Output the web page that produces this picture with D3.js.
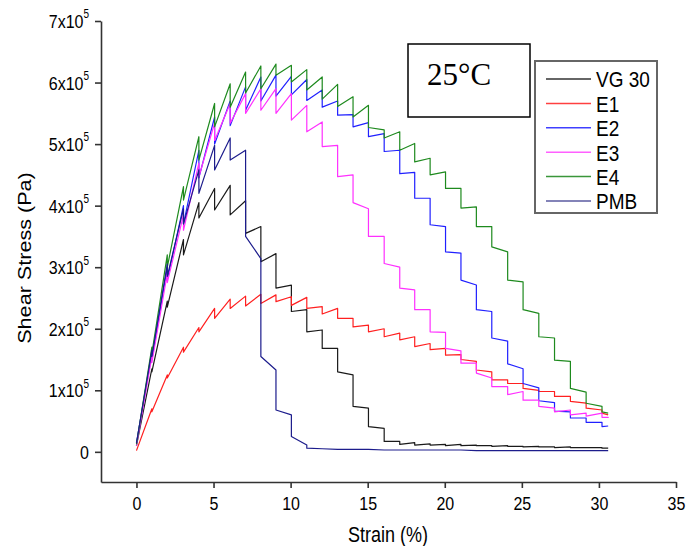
<!DOCTYPE html>
<html>
<head>
<meta charset="utf-8">
<script src="https://cdn.jsdelivr.net/npm/d3@7"></script>
<style>
  body { margin: 0; background: #fff; }
  svg text { font-family: "Liberation Sans", Arial, sans-serif; fill: #000; }
  .tall { transform-box: fill-box; transform-origin: center; transform: scaleY(1.2); }
  .long { transform-box: fill-box; transform-origin: center; transform: scaleX(1.2); }
</style>
</head>
<body>
<svg id="chart" width="687" height="546"></svg>
<script>
// strain (%) at each loading step, last entry is the end of the test
var strain = [0, 1.0, 2.0, 3.05, 4.05, 5.07, 6.08, 7.08, 8.07, 9.05, 10.05, 11.05, 12.05, 13.05, 14.05, 15.05,
  16.07, 17.08, 18.05, 19.05, 20.05, 21.05, 22.05, 23.05, 24.08, 25.08, 26.1, 27.12, 28.15, 29.17, 30.2, 30.6];

// shear stress in 10^5 Pa: value reached at each step, and value after relaxation
var vg30Peak = [0.1, 1.35, 2.45, 3.45, 4.05, 4.28, 4.33, 4.08, 3.66, 3.22, 2.71, 2.31, 1.98, 1.68, 1.25, 0.71,
  0.38, 0.17, 0.15, 0.13, 0.12, 0.12, 0.11, 0.1, 0.1, 0.09, 0.09, 0.08, 0.08, 0.07, 0.07, 0.06];
var vg30Drop = [0.1, 1.3, 2.35, 3.2, 3.8, 3.93, 3.85, 3.55, 3.09, 2.66, 2.28, 1.95, 1.68, 1.3, 0.74, 0.41,
  0.17, 0.12, 0.11, 0.11, 0.1, 0.1, 0.1, 0.09, 0.09, 0.08, 0.08, 0.07, 0.07, 0.07, 0.06, 0.06];

var e1Peak = [0.02, 0.7, 1.25, 1.7, 2.02, 2.33, 2.48, 2.53, 2.56, 2.55, 2.52, 2.51, 2.36, 2.33, 2.17, 2.06,
  2.0, 1.93, 1.87, 1.76, 1.68, 1.58, 1.47, 1.3, 1.17, 1.11, 1.0, 0.98, 0.9, 0.79, 0.68, 0.6];
var e1Drop = [0.02, 0.65, 1.2, 1.62, 1.95, 2.17, 2.33, 2.37, 2.41, 2.44, 2.38, 2.33, 2.24, 2.17, 2.03, 1.95,
  1.87, 1.82, 1.71, 1.66, 1.57, 1.5, 1.33, 1.17, 1.11, 1.03, 0.98, 0.9, 0.82, 0.71, 0.63, 0.6];

var e2Peak = [0.14, 1.6, 3.0, 4.0, 4.9, 5.44, 5.7, 5.93, 6.09, 6.12, 6.1, 6.05, 5.88, 5.7, 5.48, 5.35,
  5.17, 4.9, 4.54, 4.12, 3.66, 3.23, 2.71, 2.28, 1.8, 1.35, 1.04, 0.8, 0.65, 0.55, 0.48, 0.42];
var e2Drop = [0.14, 1.5, 2.8, 3.7, 4.45, 5.0, 5.3, 5.55, 5.7, 5.78, 5.8, 5.71, 5.6, 5.47, 5.28, 5.12,
  4.88, 4.52, 4.12, 3.69, 3.25, 2.79, 2.31, 1.85, 1.43, 1.11, 0.83, 0.66, 0.55, 0.48, 0.41, 0.42];

var e3Peak = [0.1, 1.55, 2.9, 3.85, 4.69, 5.34, 5.66, 5.82, 5.9, 5.9, 5.82, 5.63, 5.36, 4.98, 4.5, 3.95,
  3.5, 3.0, 2.63, 2.31, 1.94, 1.64, 1.44, 1.2, 1.06, 0.98, 0.84, 0.71, 0.68, 0.63, 0.63, 0.56];
var e3Drop = [0.1, 1.45, 2.75, 3.6, 4.47, 5.06, 5.34, 5.5, 5.55, 5.5, 5.39, 5.2, 4.96, 4.47, 4.05, 3.5,
  3.06, 2.66, 2.31, 1.95, 1.68, 1.44, 1.28, 1.06, 0.93, 0.84, 0.74, 0.65, 0.6, 0.58, 0.56, 0.55];

var e4Peak = [0.12, 1.7, 3.2, 4.31, 5.12, 5.66, 5.98, 6.17, 6.27, 6.3, 6.28, 6.21, 6.09, 5.97, 5.77, 5.63,
  5.23, 5.2, 5.01, 4.77, 4.55, 4.28, 3.98, 3.66, 3.25, 2.76, 2.25, 1.85, 1.47, 0.97, 0.74, 0.63];
var e4Drop = [0.12, 1.6, 3.0, 4.09, 4.74, 5.28, 5.6, 5.83, 5.9, 6.12, 6.01, 5.88, 5.73, 5.61, 5.44, 5.27,
  5.1, 4.9, 4.71, 4.5, 4.28, 3.96, 3.66, 3.33, 2.79, 2.31, 1.87, 1.49, 1.03, 0.79, 0.65, 0.63];

var pmbPeak = [0.14, 1.65, 3.05, 3.95, 4.58, 4.98, 5.1, 4.9, 3.14, 1.33, 0.6, 0.11, 0.05, 0.04, 0.04, 0.04,
  0.03, 0.03, 0.03, 0.03, 0.03, 0.03, 0.02, 0.02, 0.02, 0.02, 0.02, 0.02, 0.02, 0.02, 0.02, 0.02];
var pmbDrop = [0.14, 1.55, 2.85, 3.7, 4.2, 4.58, 4.74, 3.5, 1.55, 0.68, 0.25, 0.06, 0.05, 0.04, 0.04, 0.04,
  0.03, 0.03, 0.03, 0.03, 0.03, 0.03, 0.02, 0.02, 0.02, 0.02, 0.02, 0.02, 0.02, 0.02, 0.02, 0.02];

var seriesNames = ["VG 30", "E1", "E2", "E3", "E4", "PMB"];
var seriesColors = ["#1a1a1a", "#ff2020", "#2020ff", "#ff30ff", "#1e8a1e", "#1c1c8c"];
var legendColors = ["#333333", "#ff4040", "#4040ff", "#ff60ff", "#3a963a", "#5a5aa0"];
var peaks = [vg30Peak, e1Peak, e2Peak, e3Peak, e4Peak, pmbPeak];
var drops = [vg30Drop, e1Drop, e2Drop, e3Drop, e4Drop, pmbDrop];

var xTicks = [0, 5, 10, 15, 20, 25, 30, 35];
var yTicks = [0, 1, 2, 3, 4, 5, 6, 7];

var svg = d3.select("#chart");
var x = d3.scaleLinear().domain([-2.3, 35]).range([101, 676]);
var y = d3.scaleLinear().domain([-0.49, 7]).range([482, 21]);

// lines first, axes drawn over them
var line = d3.line()
  .x(function (d) { return x(d[0]); })
  .y(function (d) { return y(d[1]); });

seriesNames.forEach(function (name, k) {
  var pts = [];
  strain.forEach(function (s, i) {
    pts.push([s, peaks[k][i]]);
    pts.push([s, drops[k][i]]);
  });
  svg.append("path")
    .datum(pts)
    .attr("fill", "none")
    .attr("stroke", seriesColors[k])
    .attr("stroke-width", 1.2)
    .attr("stroke-linejoin", "round")
    .attr("d", line);
});

var xAxis = svg.append("g")
  .attr("transform", "translate(0,482)")
  .call(d3.axisBottom(x).tickValues(xTicks).tickSize(6).tickSizeOuter(0).tickPadding(10));

var yAxis = svg.append("g")
  .attr("transform", "translate(101,0)")
  .call(d3.axisLeft(y).tickValues(yTicks).tickSize(6).tickSizeOuter(0).tickPadding(6));

[xAxis, yAxis].forEach(function (g) {
  g.attr("font-family", null).attr("font-size", null);
  g.select(".domain").attr("stroke", "#333").attr("stroke-width", 1.6);
  g.selectAll(".tick line").attr("stroke", "#333").attr("stroke-width", 1.6);
  g.selectAll(".tick text").attr("font-size", 16).attr("fill", "#000").attr("class", "tall");
});

yAxis.selectAll(".tick text").each(function (d) {
  var t = d3.select(this);
  t.text(null);
  if (d === 0) {
    t.text("0");
  } else {
    t.append("tspan").text(d + "x10");
    t.append("tspan").attr("font-size", 10).attr("dy", -8).text("5");
  }
});

// axis titles
svg.append("text")
  .attr("class", "tall")
  .attr("x", 388).attr("y", 541)
  .attr("text-anchor", "middle")
  .attr("font-size", 18)
  .text("Strain (%)");

svg.append("g")
  .attr("transform", "translate(31,258) rotate(-90)")
  .append("text")
  .attr("class", "long")
  .attr("text-anchor", "middle")
  .attr("font-size", 18)
  .text("Shear Stress (Pa)");

// temperature box
svg.append("rect")
  .attr("x", 408).attr("y", 44).attr("width", 122).attr("height", 73)
  .attr("fill", "#fff").attr("stroke", "#000").attr("stroke-width", 1.5);
svg.append("text")
  .attr("x", 427).attr("y", 85)
  .style("font-family", "'Liberation Serif', 'Times New Roman', serif")
  .attr("font-size", 31)
  .text("25\u00B0C");

// legend
var legend = svg.append("g").attr("transform", "translate(535,61)");
legend.append("rect")
  .attr("width", 122).attr("height", 152)
  .attr("fill", "#fff").attr("stroke", "#666").attr("stroke-width", 2);
seriesNames.forEach(function (name, k) {
  var ly = 18 + k * 24.4;
  legend.append("line")
    .attr("x1", 11).attr("x2", 56).attr("y1", ly).attr("y2", ly)
    .attr("stroke", legendColors[k]).attr("stroke-width", 1.5);
  legend.append("text")
    .attr("class", "tall")
    .attr("x", 61).attr("y", ly + 7)
    .attr("font-size", 19)
    .text(name);
});
</script>
</body>
</html>
